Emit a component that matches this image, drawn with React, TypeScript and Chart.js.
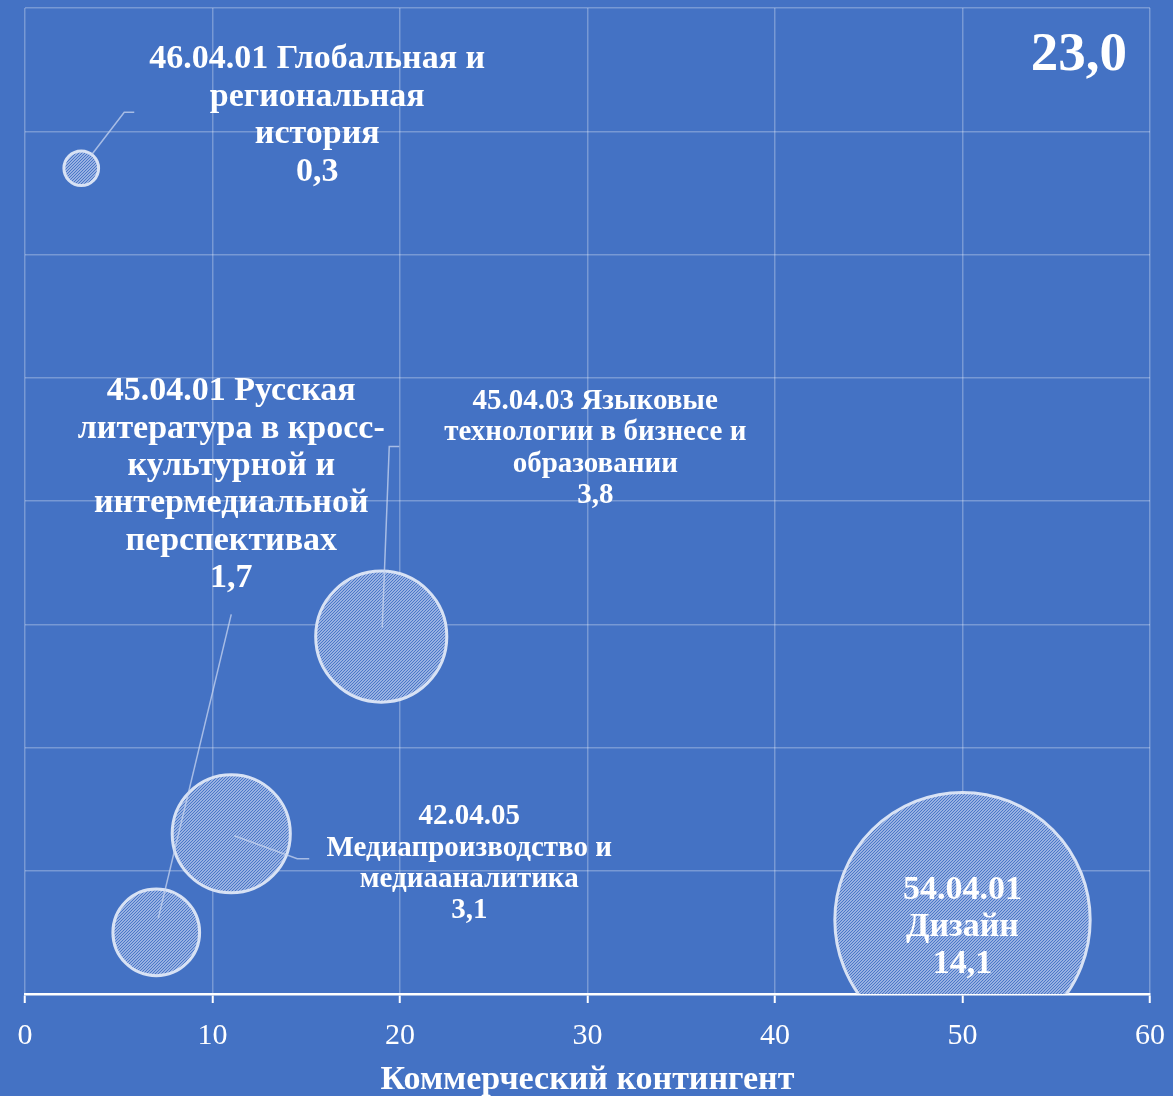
import React, { useEffect, useRef } from "react";
import { Chart, registerables } from "chart.js";

Chart.register(...registerables);

// ---- data ----
const programNames: string[][] = [
  ["46.04.01 Глобальная и", "региональная", "история"],
  ["45.04.01 Русская", "литература в кросс-", "культурной и", "интермедиальной", "перспективах"],
  ["45.04.03 Языковые", "технологии в бизнесе и", "образовании"],
  ["42.04.05", "Медиапроизводство и", "медиааналитика"],
  ["54.04.01", "Дизайн"],
];
const commercialCount: number[] = [3, 7, 19, 11, 50];
const yValues: number[] = [6.7, 0.5, 2.9, 1.3, 0.6];
const bubbleSizes: number[] = [0.3, 1.7, 3.8, 3.1, 14.1];
const xTickValues: number[] = [0, 10, 20, 30, 40, 50, 60];
const xAxisTitle = "Коммерческий контингент";

// ---- layout / styles (not data) ----
const BG = "#4472C4";
const FONT = '"Liberation Serif", "DejaVu Serif", serif';
const RADIUS_K = 34.4;
type Lay = { dx: number; dy: number; size: number; lh: number; leader?: [number, number][] };
const LABEL_LAYOUT: Lay[] = [
  { dx: 236, dy: -109, size: 34, lh: 37.7, leader: [[10, -13], [43, -56], [53, -56]] },
  { dx: 75, dy: -541, size: 34, lh: 37.4, leader: [[75, -318], [2, -14]] },
  { dx: 214, dy: -235, size: 29, lh: 31.3, leader: [[18, -190], [8, -190], [1, -9]] },
  { dx: 238, dy: -17, size: 29, lh: 31.3, leader: [[78, 25], [66, 25], [3, 2]] },
  { dx: 0, dy: -30, size: 34, lh: 37 },
];

const fmt = (v: number) => v.toFixed(1).replace(".", ",");

function makePattern(): CanvasPattern | string {
  const c = document.createElement("canvas");
  c.width = 3;
  c.height = 3;
  const g = c.getContext("2d");
  if (!g) return "#7F9ED8";
  for (let x = 0; x < 3; x++) {
    for (let y = 0; y < 3; y++) {
      g.fillStyle = (x + y) % 3 === 0 ? "#4A77C7" : "#98B1E2";
      g.fillRect(x, y, 1, 1);
    }
  }
  const p = g.createPattern(c, "repeat");
  return p || "#7F9ED8";
}

const bgPlugin = {
  id: "bgFill",
  beforeDraw(chart: any) {
    const { ctx, width, height } = chart;
    ctx.save();
    ctx.fillStyle = BG;
    ctx.fillRect(0, 0, width, height);
    ctx.restore();
  },
};

const labelPlugin = {
  id: "bubbleLabels",
  afterDatasetsDraw(chart: any) {
    const ctx: CanvasRenderingContext2D = chart.ctx;
    const meta = chart.getDatasetMeta(0);
    ctx.save();
    meta.data.forEach((pt: any, i: number) => {
      const { x, y } = pt.getProps(["x", "y"], true);
      const lay = LABEL_LAYOUT[i];
      if (lay.leader) {
        ctx.beginPath();
        ctx.strokeStyle = "rgba(200,214,240,0.75)";
        ctx.lineWidth = 1.5;
        lay.leader.forEach(([lx, ly], k) => {
          if (k === 0) ctx.moveTo(x + lx, y + ly);
          else ctx.lineTo(x + lx, y + ly);
        });
        ctx.stroke();
      }
      const lines = [...programNames[i], fmt(bubbleSizes[i])];
      ctx.font = `bold ${lay.size}px ${FONT}`;
      ctx.fillStyle = "#FFFFFF";
      ctx.textAlign = "center";
      ctx.textBaseline = "middle";
      lines.forEach((ln, j) => ctx.fillText(ln, x + lay.dx, y + lay.dy + j * lay.lh));
    });
    const total = bubbleSizes.reduce((a, b) => a + b, 0);
    const area = chart.chartArea;
    ctx.font = `bold 55px ${FONT}`;
    ctx.textAlign = "right";
    ctx.textBaseline = "middle";
    ctx.fillStyle = "#FFFFFF";
    ctx.fillText(fmt(total), area.right - 23, area.top + 48);
    ctx.restore();
  },
};

export default function App() {
  const ref = useRef<HTMLCanvasElement | null>(null);
  useEffect(() => {
    if (!ref.current) return;
    const pattern = makePattern();
    const data = commercialCount.map((x, i) => ({
      x,
      y: yValues[i],
      r: RADIUS_K * Math.sqrt(bubbleSizes[i]) - 1.5,
    }));
    const chart = new Chart(ref.current, {
      type: "bubble",
      data: {
        datasets: [
          {
            label: "Программы",
            data,
            backgroundColor: pattern as any,
            borderColor: "rgba(222,231,247,0.95)",
            borderWidth: 3,
            clip: 0 as any,
          },
        ],
      },
      options: {
        animation: false,
        responsive: true,
        maintainAspectRatio: false,
        events: [],
        layout: { autoPadding: false, padding: { left: 25, right: 23, top: 8, bottom: 0 } },
        plugins: {
          legend: { display: false },
          tooltip: { enabled: false },
        },
        scales: {
          x: {
            type: "linear",
            min: 0,
            max: 60,
            afterBuildTicks: (scale: any) => {
              scale.ticks = xTickValues.map((v) => ({ value: v }));
            },
            afterFit: (scale: any) => {
              scale.height = 102;
              scale.paddingLeft = 0;
              scale.paddingRight = 0;
            },
            ticks: {
              stepSize: 10,
              color: "#FFFFFF",
              font: { family: FONT, size: 30 },
              padding: 15,
            },
            grid: {
              color: "rgba(255,255,255,0.28)",
              lineWidth: 1.5,
              tickColor: "#FFFFFF",
              tickWidth: 2,
              tickLength: 9,
            },
            border: { display: true, color: "#FFFFFF", width: 2.5 },
            title: {
              display: true,
              text: xAxisTitle,
              color: "#FFFFFF",
              font: { family: FONT, size: 34, weight: "bold", lineHeight: 0.9 },
              padding: { top: 0, bottom: 0 },
            },
          },
          y: {
            type: "linear",
            min: 0,
            max: 8,
            ticks: { display: false, stepSize: 1 },
            grid: {
              color: "rgba(255,255,255,0.28)",
              lineWidth: 1.5,
              drawTicks: false,
            },
            border: { display: false },
          },
        },
      },
      plugins: [bgPlugin, labelPlugin],
    });
    return () => chart.destroy();
  }, []);
  return (
    <div
      style={{
        position: "absolute",
        left: 0,
        top: 0,
        width: 1173,
        height: 1096,
        background: BG,
      }}
    >
      <canvas ref={ref} />
    </div>
  );
}
